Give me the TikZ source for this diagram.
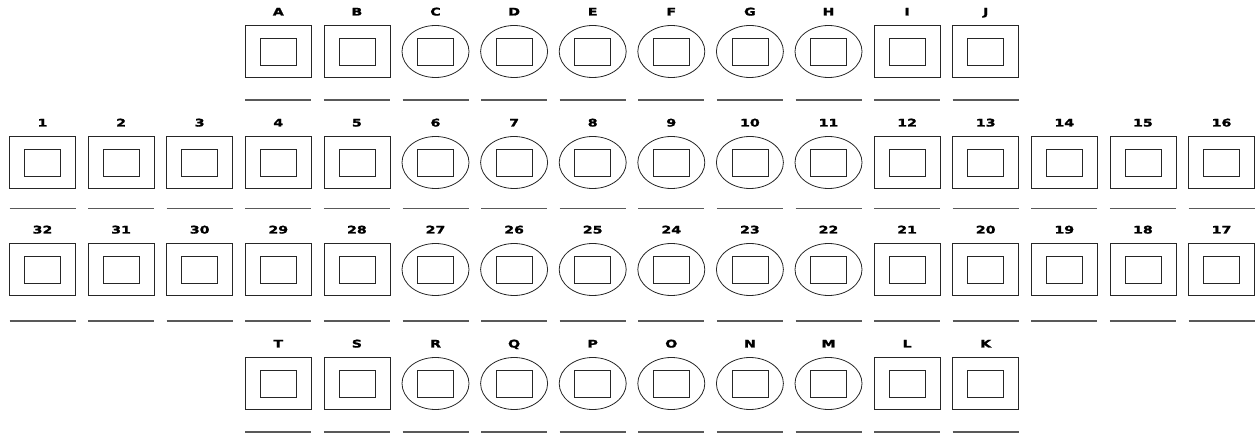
\documentclass[tikz,border=0pt]{standalone}
\usepackage{fontspec}
\newfontfamily\lblfont[FakeStretch=1.35, FakeBold=1.6]{DejaVu Sans}
\usetikzlibrary{shapes.geometric, positioning}

\begin{document}
\begin{tikzpicture}[
    x=1pt, y=-1pt,
    every node/.style={inner sep=0pt},
    sq/.style={rectangle, draw=black!85, line width=0.8pt, minimum width=66pt, minimum height=52pt},
    ov/.style={ellipse, draw=black!85, line width=0.8pt, minimum width=67pt, minimum height=52pt},
    crown/.style={rectangle, draw=black!85, line width=0.8pt, minimum width=36pt, minimum height=27pt},
    lbl/.style={font=\lblfont\bfseries\fontsize{10.5}{12}\selectfont, anchor=base},
    blank/.style={draw=black!65, line width=1.5pt}
]
    \useasboundingbox (0,0) rectangle (1255,435);

    % four rows: centre height, offset of the write-in line, first column, labels
    \foreach \y/\dy/\first/\labs in {
        51.5/48.5/4/{A,B,C,D,E,F,G,H,I,J},
        162.5/46/1/{1,2,3,4,5,6,7,8,9,10,11,12,13,14,15,16},
        269.5/51.5/1/{32,31,30,29,28,27,26,25,24,23,22,21,20,19,18,17},
        383.5/48.5/4/{T,S,R,Q,P,O,N,M,L,K}}{
      \foreach \lab [count=\c from \first] in \labs {
        \def\shp{sq}
        \ifnum\c>5\relax\ifnum\c<12\relax\def\shp{ov}\fi\fi
        \node[\shp]  (t\lab)  at ({42.5+(\c-1)*78.6}, \y) {};
        \node[crown] (t\lab c) at (t\lab) {};
        \node[lbl] (t\lab l) at ([yshift=36pt]t\lab.center) {\lab};
        \draw[blank] ([xshift=-33pt, yshift=-\dy pt]t\lab.center)
                  -- ([xshift=33pt, yshift=-\dy pt]t\lab.center);
      }
    }
\end{tikzpicture}
\end{document}
